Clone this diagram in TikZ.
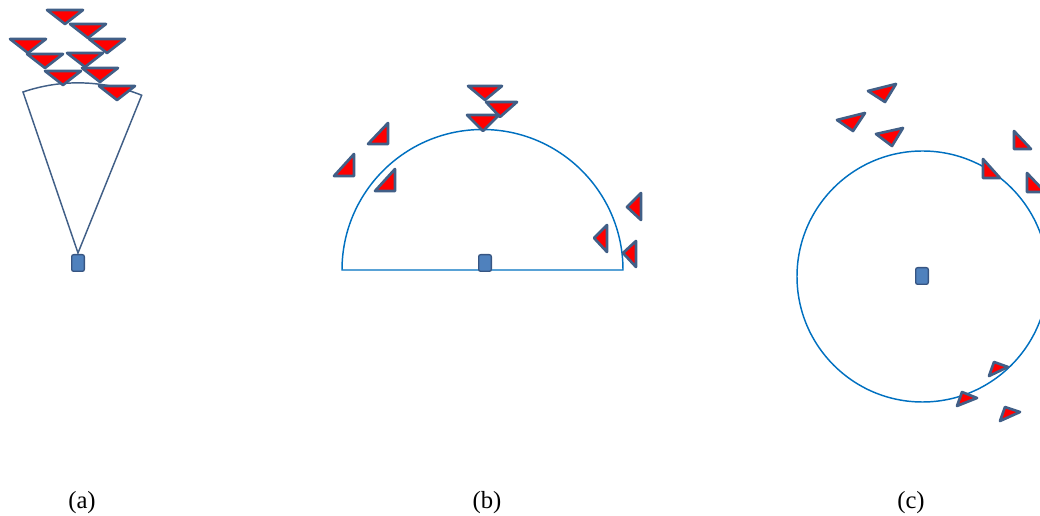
\documentclass[tikz,border=0pt]{standalone}
\usepackage{fontspec}
\setmainfont{Liberation Serif}
\begin{document}
\begin{tikzpicture}[x=0.75pt,y=-0.75pt,
  tri/.style={fill=red,draw={rgb,255:red,65;green,95;blue,135},line width=2pt,line join=round},
  sensor/.style={draw={rgb,255:red,55;green,85;blue,130},fill={rgb,255:red,79;green,129;blue,189},line width=1pt,rounded corners=1.5pt,minimum width=9.5pt,minimum height=12.5pt,inner sep=0pt},
  rangeA/.style={draw={rgb,255:red,65;green,95;blue,135},line width=1.1pt},
  rangeB/.style={draw={rgb,255:red,0;green,112;blue,192},line width=1.1pt},
  lab/.style={font=\fontsize{18.5}{22}\selectfont,inner sep=0pt}]
\useasboundingbox (0,0) rectangle (1040,516);
% ---------- (a) ----------
\coordinate (apexA) at (78,253);
\draw[rangeA] (apexA) -- (23,92) arc[start angle=-108.86,end angle=-68.0,radius=170.1] -- cycle;
\node[sensor] (sa) at (78,263) {};
\foreach \x/\y in {65/24,88/38,107/53,28/53,45/68,85/67,63/85,100/82,117/100}{
  \draw[tri] (\x-18,\y-14) -- (\x+18,\y-14) -- (\x,\y) -- cycle;
}
\node[lab] (la) at (82,503) {(a)};
% ---------- (b) ----------
\draw[rangeB] (342,270) arc[start angle=180,end angle=360,radius=140.5] -- cycle;
\node[sensor] (sb) at (485,263) {};
\draw[tri] (468,86) -- (502,86) -- (485,100) -- cycle;
\draw[tri] (486,102) -- (517,102) -- (500,117) -- cycle;
\draw[tri] (467,115) -- (499,115) -- (483,131) -- cycle;
\draw[tri] (388,123) -- (388,144) -- (368,144) -- cycle;
\draw[tri] (354,154) -- (354,176) -- (334,176) -- cycle;
\draw[tri] (395,169) -- (395,191) -- (375,191) -- cycle;
\draw[tri] (641,193) -- (641,220) -- (627,207) -- cycle;
\draw[tri] (607,225) -- (607,252) -- (594,238) -- cycle;
\draw[tri] (636,241) -- (636,267) -- (623,253) -- cycle;
\node[lab] (lb) at (487,503) {(b)};
% ---------- (c) ----------
\begin{scope}
\clip (780,0) rectangle (1040,516);
\draw[rangeB] (922.5,276.5) circle[radius=125.5];
\draw[tri] (1027,173) -- (1027,192) -- (1045,192) -- cycle;
\end{scope}
\node[sensor] (sc) at (922,276) {};
\draw[tri] (868,91) -- (896,84) -- (885,102) -- cycle;
\draw[tri] (837,120) -- (865,113) -- (853,131) -- cycle;
\draw[tri] (876,134) -- (903,128) -- (892,146) -- cycle;
\draw[tri] (1014,131) -- (1014,149) -- (1031,149) -- cycle;
\draw[tri] (983,159) -- (983,178) -- (1000,178) -- cycle;
\draw[tri] (989,376) -- (994,362) -- (1008,367) -- cycle;
\draw[tri] (957,406) -- (962,392) -- (977,398) -- cycle;
\draw[tri] (1000,421) -- (1005,407) -- (1020,412) -- cycle;
\node[lab] (lc) at (911,503) {(c)};
\end{tikzpicture}
\end{document}
